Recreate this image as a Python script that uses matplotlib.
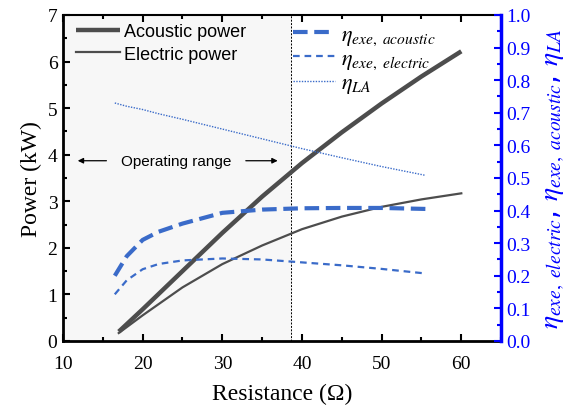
import numpy as np
import matplotlib.pyplot as plt
from matplotlib.ticker import MultipleLocator

# Werte
r_power = [17, 20, 25, 30, 35, 40, 45, 50, 55, 60]
p_acoustic = [0.2, 0.68, 1.5, 2.32, 3.1, 3.82, 4.48, 5.1, 5.68, 6.22]
p_electric = [0.17, 0.55, 1.15, 1.65, 2.05, 2.4, 2.67, 2.88, 3.04, 3.17]

r_eff = [16.5, 18, 20, 22, 25, 30, 35, 40, 45, 50, 55.5]
eta_acoustic = [0.2, 0.26, 0.31, 0.335, 0.36, 0.393, 0.403, 0.407, 0.408, 0.408, 0.405]
eta_electric = [0.143, 0.186, 0.22, 0.236, 0.247, 0.253, 0.25, 0.241, 0.232, 0.221, 0.207]
eta_la = [0.73, 0.72, 0.71, 0.697, 0.68, 0.65, 0.62, 0.59, 0.562, 0.535, 0.508]

op_limit = 38.6

plt.rcParams['mathtext.fontset'] = 'stix'
serif = 'Liberation Serif'
sans = 'Liberation Sans'
gray = '#4d4d4d'
blue = '#3a6bc9'
axblue = '#0000ff'

fig = plt.figure(figsize=(5.78, 4.10), dpi=100)
ax = fig.add_axes([0.109, 0.166, 0.758, 0.795])
ax2 = ax.twinx()

ax.axvspan(10, op_limit, color='#f7f7f7', zorder=0)
ax.axvline(op_limit, color='black', lw=0.7, ls=(0, (2, 1.5)), zorder=1)

l1, = ax.plot(r_power, p_acoustic, color=gray, lw=3.2, solid_capstyle='butt', label='Acoustic power')
l2, = ax.plot(r_power, p_electric, color=gray, lw=1.6, label='Electric power')

l3, = ax2.plot(r_eff, eta_acoustic, color=blue, lw=3, ls=(0, (3.5, 1.6)),
               label=r'$\eta_{exe,\ acoustic}$')
l4, = ax2.plot(r_eff, eta_electric, color=blue, lw=1.6, ls=(0, (3, 2.2)),
               label=r'$\eta_{exe,\ electric}$')
l5, = ax2.plot(r_eff, eta_la, color=blue, lw=1.0, ls=(0, (1, 1)),
               label=r'$\eta_{LA}$')

ax.set_xlim(10, 65)
ax.set_ylim(0, 7)
ax2.set_ylim(0, 1.0)

ax.xaxis.set_major_locator(MultipleLocator(10))
ax.xaxis.set_minor_locator(MultipleLocator(5))
ax.yaxis.set_major_locator(MultipleLocator(1))
ax.yaxis.set_minor_locator(MultipleLocator(0.5))
ax2.yaxis.set_major_locator(MultipleLocator(0.1))
ax2.yaxis.set_minor_locator(MultipleLocator(0.05))

ax.tick_params(which='both', direction='in', top=True, right=False, width=1.5)
ax.tick_params(which='major', length=5, labelsize=14, pad=4)
ax.tick_params(axis='x', which='major', pad=10)
ax.tick_params(which='minor', length=3)
ax2.tick_params(which='both', direction='in', colors=axblue, width=1.5)
ax2.tick_params(which='major', length=5, labelsize=14, pad=4)
ax2.tick_params(which='minor', length=3)
ax2.yaxis.set_major_formatter(plt.FormatStrFormatter('%.1f'))

for lab in ax.get_xticklabels() + ax.get_yticklabels() + ax2.get_yticklabels():
    lab.set_fontfamily(serif)

for s in ['left', 'bottom']:
    ax.spines[s].set_linewidth(2)
ax.spines['top'].set_linewidth(1.5)
ax2.spines['right'].set_color(axblue)
ax2.spines['right'].set_linewidth(2.5)
ax2.spines['left'].set_visible(False)
ax2.spines['top'].set_visible(False)
ax2.spines['bottom'].set_visible(False)

ax.set_xlabel('Resistance (Ω)', fontsize=17, family=serif, labelpad=8)
ax.set_ylabel('Power (kW)', fontsize=17, family=serif, labelpad=4)
ax2.set_ylabel(r'$\eta_{exe,\ electric}$, $\eta_{exe,\ acoustic}$, $\eta_{LA}$',
               fontsize=20, color=axblue, labelpad=6)

leg1 = ax.legend(handles=[l1, l2], loc='upper left', bbox_to_anchor=(0.012, 1.0),
                 frameon=False, prop={'family': sans, 'size': 13},
                 handlelength=2.4, handletextpad=0.25, borderaxespad=0.05, labelspacing=0.3)
leg2 = ax2.legend(handles=[l3, l4, l5], loc='upper left', bbox_to_anchor=(0.505, 1.0),
                  frameon=False, prop={'family': sans, 'size': 16},
                  handlelength=1.9, handletextpad=0.25, borderaxespad=0.0, labelspacing=0.05)

ax.annotate('', xy=(11.5, 3.87), xytext=(15.8, 3.87),
            arrowprops=dict(arrowstyle='-|>', color='black', lw=0.9, mutation_scale=8))
ax.annotate('', xy=(37.3, 3.87), xytext=(32.6, 3.87),
            arrowprops=dict(arrowstyle='-|>', color='black', lw=0.9, mutation_scale=8))
ax.text(24.2, 3.87, 'Operating range', ha='center', va='center', fontsize=11, family=sans)

fig.savefig('out.png', dpi=100)
